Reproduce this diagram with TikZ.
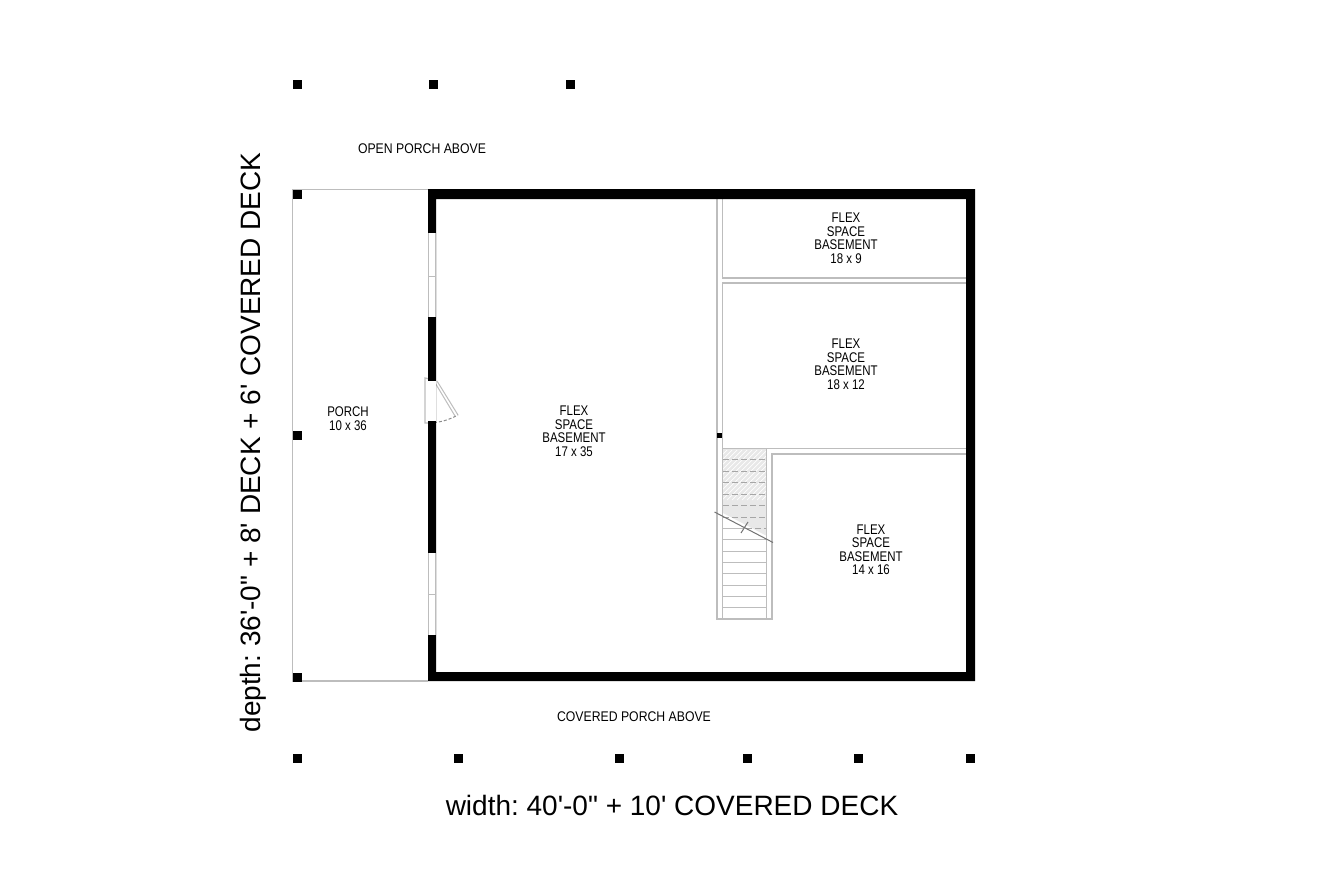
\documentclass[tikz,border=0pt]{standalone}
\usepackage{fontspec}
\newfontfamily\dimfont[Ligatures=ResetAll]{Liberation Sans}
\newfontfamily\handfont[FakeStretch=0.82]{Liberation Sans}
\newfontfamily\notefont[FakeStretch=0.875]{Liberation Sans}
\definecolor{linegrey}{gray}{0.74}
\tikzset{
  wallfill/.style={fill=black,draw=none},
  thin line/.style={draw=linegrey,line width=1.3pt},
  hair/.style={draw=linegrey,line width=1pt},
  post/.style={fill=black,draw=none,minimum size=9pt,inner sep=0pt,rectangle},
  roomlabel/.style={font=\handfont\fontsize{14}{13.5}\selectfont,align=center,inner sep=0pt,text=black},
  notelabel/.style={font=\notefont\fontsize{14}{14}\selectfont,inner sep=0pt,text=black},
  dimlabel/.style={font=\dimfont\fontsize{28}{30}\selectfont,inner sep=0pt,text=black}
}
\begin{document}
\frenchspacing
\begin{tikzpicture}[x=1pt,y=-1pt]
\useasboundingbox (0,0) rectangle (1320,880);
\fill[white] (0,0) rectangle (1320,880);
% porch outline
\draw[thin line] (428,189.5) -- (292.5,189.5) -- (292.5,681) -- (428,681);
% stair hatch
\fill[black!9] (722,448) -- (766,448) -- (766,535.5) -- (722,512.5) -- cycle;
\begin{scope}
\clip (722,448) -- (766,448) -- (766,535.5) -- (722,512.5) -- cycle;
\foreach \k in {0,5,...,140}
  \draw[white,line width=.7pt] (722+\k-50,500) -- (722+\k,450);
\end{scope}
% stair treads
\foreach \y in {459,471,482,494,505,517}
  \draw[hair,dash pattern=on 6pt off 3pt,draw=black!35] (723,\y) -- (766,\y);
\draw[hair,dash pattern=on 6pt off 3pt,draw=black!35] (746,528) -- (766,528);
\draw[hair] (723,528) -- (743,528);
\foreach \y in {539.5,551,562,573,585,596,607.5}
  \draw[hair] (723,\y) -- (766,\y);
% interior partitions
\draw[thin line] (717,199) -- (717,619) -- (772,619) -- (772,454) -- (966,454);
\draw[thin line] (722.5,199) -- (722.5,278) -- (966,278);
\draw[thin line] (966,283) -- (722.5,283) -- (722.5,619);
\draw[thin line] (722.5,448.5) -- (966,448.5);
\draw[thin line] (766.5,448.5) -- (766.5,619);
% stair break line
\draw[draw=black!55,line width=1pt] (714.5,512) -- (773,542.5);
\draw[draw=black!55,line width=1pt] (741,533) -- (748,522);
% door
\draw[thin line] (434,380) -- (425,378) -- (425,423) -- (428,423);
\draw[hair] (434,381) -- (455,416);
\draw[hair] (437,381) -- (458,415);
\draw[hair,draw=black!45,dash pattern=on 3pt off 2pt] (429,423) to[bend right=12] (458,415);
% thick walls
\fill[wallfill,even odd rule] (428,189) rectangle (975,681) (436,199) rectangle (966,672);
\fill[white] (427,233) rectangle (436,317);
\fill[white] (427,381) rectangle (436,421);
\fill[white] (427,553) rectangle (436,635);
% windows
\draw[thin line] (428.5,233) -- (428.5,317) (435.5,233) -- (435.5,317);
\draw[hair] (428,276) -- (436,276);
\draw[thin line] (428.5,553) -- (428.5,635) (435.5,553) -- (435.5,635);
\draw[hair] (428,594) -- (436,594);
% posts
\foreach \n/\x/\y in {a/297/85,b/433/85,c/570/85,d/297/194,e/297/435,f/297/677,g/297/758,h/458/758,i/619/758,j/747/758,k/858/758,l/970/758}
  \node[post] (post\n) at (\x,\y) {};
\node[post,minimum size=5pt] (postm) at (719.5,435.5) {};
% labels
\node[notelabel] (openporch) at (422,148.5) {OPEN PORCH ABOVE};
\node[notelabel] (coveredporch) at (634,716.5) {COVERED PORCH ABOVE};
\node[roomlabel] (porch) at (348,418.5) {PORCH\\10 x 36};
\node[roomlabel] (flexa) at (574,431) {FLEX\\SPACE\\BASEMENT\\17 x 35};
\node[roomlabel] (flexb) at (846,238.5) {FLEX\\SPACE\\BASEMENT\\18 x 9};
\node[roomlabel] (flexc) at (846,364.5) {FLEX\\SPACE\\BASEMENT\\18 x 12};
\node[roomlabel] (flexd) at (871,549.5) {FLEX\\SPACE\\BASEMENT\\14 x 16};
\node[dimlabel] (width) at (672,805) {width: 40'-0" + 10' COVERED DECK};
\node[dimlabel,rotate=90] (depth) at (253,442.5) {depth: 36'-0" + 8' DECK + 6' COVERED DECK};
\end{tikzpicture}
\end{document}
